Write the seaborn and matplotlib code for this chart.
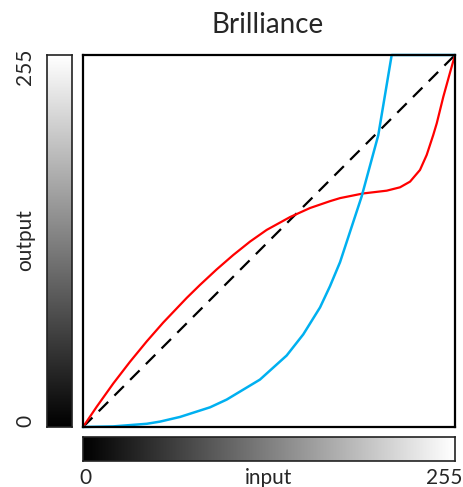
import numpy as np
import pandas as pd
import seaborn as sns
import matplotlib
matplotlib.use("Agg")
import matplotlib.pyplot as plt

sns.set_style("white")
plt.rcParams['font.family'] = ['Lato', 'DejaVu Sans']

# Data
title = "Brilliance"
x_label = "input"
y_label = "output"
tick_min, tick_max = 0, 255

red_x = [0, 9.4, 20.8, 32.2, 43.7, 55.0, 71.1, 80.2, 91.6, 103.0, 114.5, 125.9, 141.9,
         155.6, 169.3, 176.2, 192.1, 208.2, 217.3, 224.2, 231.0, 235.6, 240.1, 242.5,
         247.0, 251.6, 255]
red_y = [0, 13.9, 29.9, 44.7, 58.7, 71.6, 88.5, 97.4, 108.0, 117.9, 127.1, 135.1, 143.9,
         150.1, 154.8, 156.9, 160.1, 162.0, 164.3, 168.2, 176.2, 186.5, 200.2, 208.2,
         226.4, 243.0, 255]

blue_x = [0, 20.6, 43.7, 52.8, 66.5, 87.1, 98.5, 121.3, 139.6, 151.0, 162.5, 169.3,
          176.2, 191.0, 202.4, 211.6, 255]
blue_y = [0, 0.4, 2.2, 3.7, 6.9, 13.5, 18.8, 32.5, 49.0, 63.5, 82.0, 96.5,
          113.0, 158.0, 200.0, 255, 255]

diag_x = [0, 255]
diag_y = [0, 255]

W, H = 464, 487
fig = plt.figure(figsize=(W / 100, H / 100), dpi=100)

def fx(px):
    return px / W

def fy(py):
    return 1 - py / H

ax = fig.add_axes([fx(83), fy(427), (455 - 83) / W, (427 - 55) / H])

sns.lineplot(x=diag_x, y=diag_y, ax=ax, color="black", lw=1.6,
             linestyle=(0, (6, 4)), estimator=None, sort=False)
sns.lineplot(x=red_x, y=red_y, ax=ax, color="#ff0000", lw=1.6, estimator=None, sort=False)
sns.lineplot(x=blue_x, y=blue_y, ax=ax, color="#00b0f0", lw=1.8, estimator=None, sort=False,
             clip_on=False)

ax.set_xlim(tick_min, tick_max)
ax.set_ylim(tick_min, tick_max)
ax.set_xticks([])
ax.set_yticks([])
for s in ax.spines.values():
    s.set_visible(True)
    s.set_color("black")
    s.set_linewidth(1.6)

fig.text(fx(268), fy(33), title, ha="center", va="baseline", fontsize=20)

# Left gradient bar (white top, black bottom)
grad = np.linspace(0, 1, 256)
axl = fig.add_axes([fx(47.5), fy(427), (72 - 47.5) / W, (427 - 55) / H])
sns.heatmap(pd.DataFrame(grad[::-1].reshape(-1, 1)), ax=axl, cmap="gray", cbar=False,
            vmin=0, vmax=1, xticklabels=False, yticklabels=False)
for s in axl.spines.values():
    s.set_visible(True)
    s.set_color("#222222")
    s.set_linewidth(1.2)

# Bottom gradient bar (black left, white right)
axb = fig.add_axes([fx(83), fy(461), (455 - 83) / W, (461 - 437) / H])
sns.heatmap(pd.DataFrame(grad.reshape(1, -1)), ax=axb, cmap="gray", cbar=False,
            vmin=0, vmax=1, xticklabels=False, yticklabels=False)
for s in axb.spines.values():
    s.set_visible(True)
    s.set_color("#222222")
    s.set_linewidth(1.2)

fs = 15
fig.text(fx(85), fy(478), str(tick_min), ha="center", va="center", fontsize=fs)
fig.text(fx(269), fy(478), x_label, ha="center", va="center", fontsize=fs)
fig.text(fx(444), fy(478), str(tick_max), ha="center", va="center", fontsize=fs)
fig.text(fx(25), fy(67), str(tick_max), ha="center", va="center", fontsize=fs, rotation=90)
fig.text(fx(25), fy(240), y_label, ha="center", va="center", fontsize=fs, rotation=90)
fig.text(fx(25), fy(421), str(tick_min), ha="center", va="center", fontsize=fs, rotation=90)

fig.savefig("out.png", dpi=100)
